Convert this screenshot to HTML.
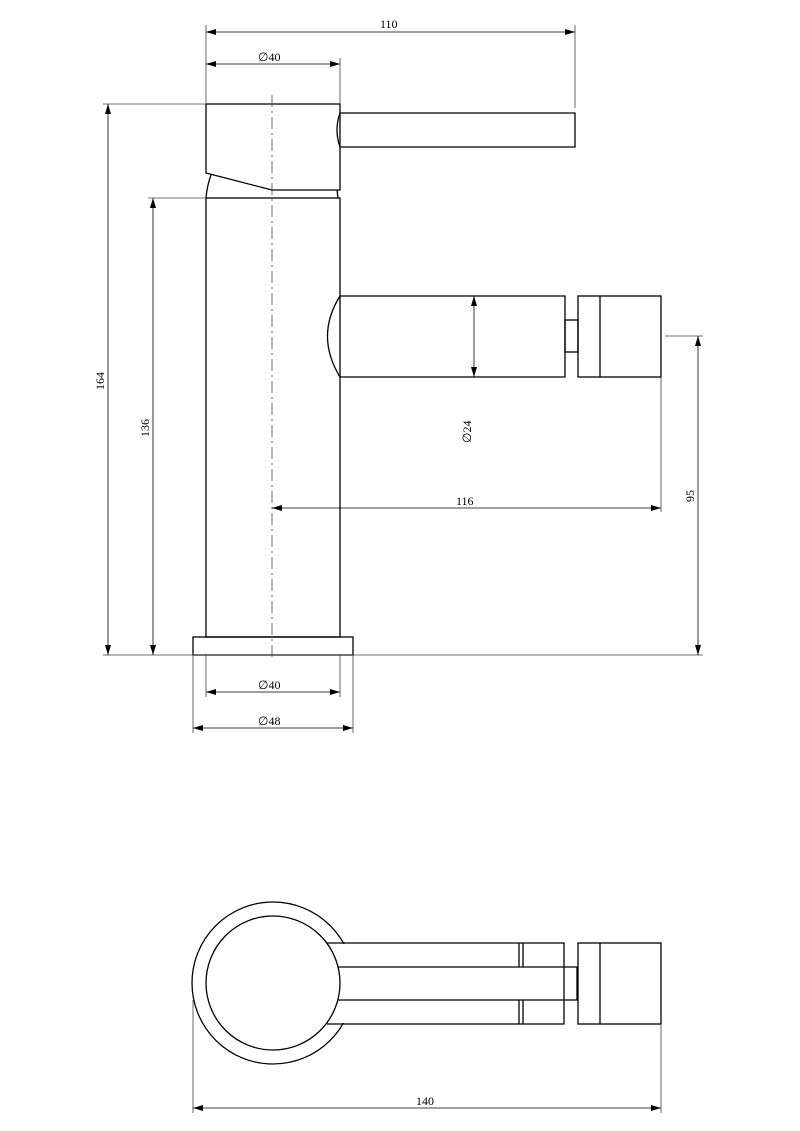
<!DOCTYPE html>
<html><head><style>body{margin:0;background:#fff}svg{display:block}text{font-family:"Liberation Serif",serif;font-size:12px;fill:#000}</style></head><body>
<svg width="800" height="1131" viewBox="0 0 800 1131" xmlns="http://www.w3.org/2000/svg">
<defs><marker id="a" markerWidth="10" markerHeight="6" refX="10" refY="3" orient="auto-start-reverse" markerUnits="userSpaceOnUse"><path d="M0,0 L10,3 L0,6 Z" fill="#000"/></marker></defs>
<g fill="none" stroke="#000" stroke-width="1.3">
<path d="M206,104 H340 V190 H272 L206,173 Z"/>
<path d="M340,113 H575 V147 H340"/>
<path d="M340,113 Q334,130 340,147"/>
<path d="M211,175 Q207,186 206,198 M337,190 L338,198"/>
<rect x="206" y="198" width="134" height="439"/>
<rect x="193" y="637" width="160" height="18"/>
<path d="M340,296 H565 V377 H340"/>
<path d="M340,296 Q315,336 340,377"/>
<rect x="565" y="320" width="13" height="32"/>
<rect x="578" y="296" width="83" height="81"/>
<line x1="600" y1="296" x2="600" y2="377"/>
<!-- top view -->
<circle cx="273" cy="983" r="81"/>
<rect x="330" y="944" width="30" height="79" fill="#fff" stroke="none"/>
<path d="M327,943 H564 V1024 H327"/>
<path d="M335,967 H577 V1000 H335"/>
<circle cx="273" cy="983" r="67" fill="#fff"/>
<line x1="519" y1="943" x2="519" y2="967"/><line x1="523" y1="943" x2="523" y2="967"/>
<line x1="519" y1="1000" x2="519" y2="1024"/><line x1="523" y1="1000" x2="523" y2="1024"/>
<rect x="578" y="943" width="83" height="81"/>
<line x1="600" y1="943" x2="600" y2="1024"/>
</g>
<g fill="none" stroke="#444" stroke-width="0.8">
<line x1="272" y1="95" x2="272" y2="660" stroke-dasharray="12,4,2,4"/>
<line x1="206" y1="25" x2="206" y2="104"/><line x1="575" y1="25" x2="575" y2="108"/>
<line x1="340" y1="58" x2="340" y2="104"/>
<line x1="103" y1="104" x2="206" y2="104"/><line x1="103" y1="655" x2="703" y2="655"/>
<line x1="148" y1="198" x2="206" y2="198"/>
<line x1="665" y1="336" x2="703" y2="336"/>
<line x1="661" y1="377" x2="661" y2="512"/>
<line x1="206" y1="655" x2="206" y2="697"/><line x1="340" y1="655" x2="340" y2="697"/>
<line x1="193" y1="655" x2="193" y2="733"/><line x1="353" y1="655" x2="353" y2="733"/>
<line x1="193" y1="1000" x2="193" y2="1113"/><line x1="661" y1="1024" x2="661" y2="1113"/>
</g>
<g stroke="#000" stroke-width="0.8" marker-start="url(#a)" marker-end="url(#a)">
<line x1="206" y1="32" x2="575" y2="32"/>
<line x1="206" y1="64" x2="340" y2="64"/>
<line x1="108" y1="104" x2="108" y2="655"/>
<line x1="153" y1="198" x2="153" y2="655"/>
<line x1="698" y1="336" x2="698" y2="655"/>
<line x1="272" y1="508" x2="661" y2="508"/>
<line x1="474" y1="296" x2="474" y2="377"/>
<line x1="206" y1="692" x2="340" y2="692"/>
<line x1="193" y1="728" x2="353" y2="728"/>
<line x1="193" y1="1108" x2="661" y2="1108"/>
</g>
<text x="380" y="28">110</text>
<text x="258" y="61">∅40</text>
<text x="258" y="689">∅40</text>
<text x="258" y="725">∅48</text>
<text x="456" y="505">116</text>
<text x="416" y="1105">140</text>
<text transform="translate(104,390) rotate(-90)">164</text>
<text transform="translate(149,437) rotate(-90)">136</text>
<text transform="translate(694,502) rotate(-90)">95</text>
<text transform="translate(471,443) rotate(-90)">∅24</text>
</svg>
</body></html>
